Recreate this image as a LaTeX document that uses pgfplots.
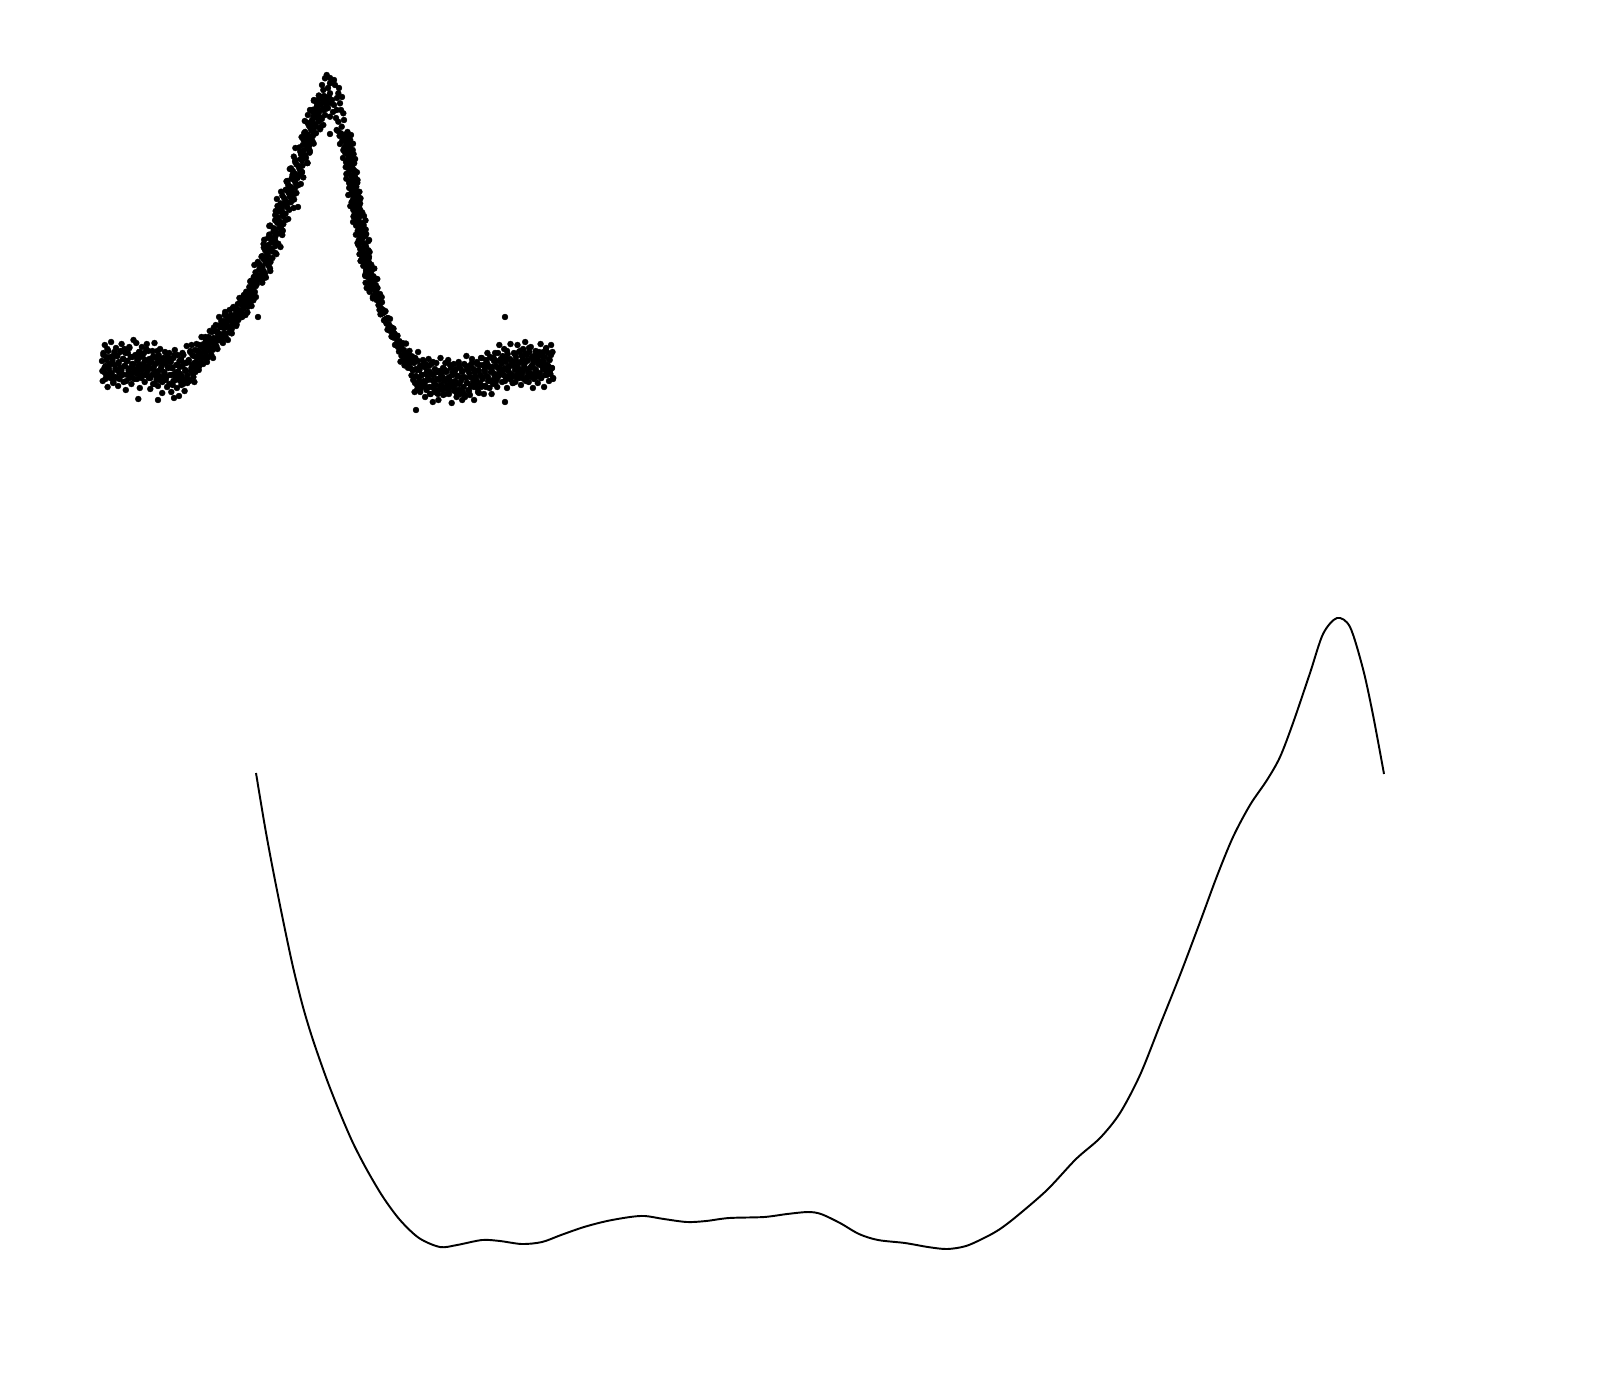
\documentclass[border=0pt]{standalone}
\usepackage{pgfplots}
\pgfplotsset{compat=1.18}
\begin{document}
\begin{tikzpicture}
\begin{axis}[width=16cm,height=13.8cm,scale only axis,
  xmin=0,xmax=1600,ymin=0,ymax=1380,y dir=reverse,axis lines=none,
  dots/.style={only marks,mark=*,mark size=0.85pt,black,mark options={line width=0.1pt,fill=black}}]
% left baseline band
\addplot[dots] table {
102.0 361
102.7 381
103.4 353
104.1 372
104.8 345
105.5 366
106.2 375
106.9 357
107.6 387
108.3 351
109.0 369
109.7 364
110.4 378
111.1 342
111.8 373
112.5 360
113.2 383
113.9 355
114.6 365
115.3 377
116.0 348
116.7 370
117.4 356
118.1 386
118.8 362
119.5 379
120.2 352
120.9 368
121.6 344
122.3 374
123.0 359
123.7 382
124.4 349
125.1 366
125.8 390
126.5 361
127.2 375
127.9 353
128.6 370
129.3 347
130.0 378
130.7 357
131.4 384
132.1 364
132.8 373
133.5 340
134.2 369
134.9 356
135.6 373
136.3 343
137.0 379
137.7 361
138.4 366
139.1 352
139.8 388
140.5 357
141.2 370
141.9 347
142.6 375
143.3 365
144.0 353
144.7 382
145.4 360
146.1 374
146.8 344
147.5 368
148.2 351
148.9 378
149.6 362
150.3 389
151.0 359
151.7 375
152.4 351
153.1 384
153.8 367
154.5 343
155.2 372
155.9 358
156.6 380
157.3 363
158.0 386
158.7 355
159.4 376
160.1 349
160.8 369
161.5 360
162.2 393
162.9 364
163.6 377
164.3 372
165.0 352
165.7 380
166.4 362
167.1 387
167.8 367
168.5 358
169.2 353
169.9 375
170.6 362
171.3 392
172.0 368
172.7 385
173.4 358
174.1 374
174.8 350
175.5 380
176.2 365
176.9 388
177.6 355
178.3 372
179.0 396
179.7 367
180.4 381
181.1 359
181.8 376
182.5 353
183.2 384
183.9 363
184.6 391
185.3 370
186.0 379
186.7 346
187.4 375
188.1 362
188.8 360
189.5 380
190.2 352
190.9 371
191.6 345
192.3 365
193.0 374
193.7 356
194.4 382
195.1 350
195.8 368
138.3 399
158.0 400
174.0 398
};
% left baseline band, second pass
\addplot[dots] table {
102.4 371
103.4 355
104.4 368
105.4 379
106.4 360
107.4 349
108.4 374
109.4 365
110.4 357
111.4 377
112.4 362
113.4 382
114.4 352
115.4 369
116.4 356
117.4 378
118.4 364
119.4 373
120.4 351
121.4 370
122.4 375
123.4 359
124.4 366
125.4 353
126.4 381
127.4 361
128.4 373
129.4 348
130.4 368
131.4 377
132.4 357
133.4 364
134.4 379
135.4 355
136.4 370
137.4 360
138.4 374
139.4 352
140.4 365
141.4 378
142.4 356
143.4 369
144.4 362
145.4 375
146.4 349
147.4 371
148.4 366
149.4 359
150.4 378
151.4 362
152.4 369
153.4 356
154.4 384
155.4 364
156.4 376
157.4 351
158.4 371
159.4 380
160.4 360
161.4 367
162.4 382
163.4 358
164.4 373
165.4 363
166.4 377
167.4 355
168.4 368
169.4 384
170.4 362
171.4 375
172.4 368
173.4 381
174.4 355
175.4 377
176.4 372
177.4 365
178.4 377
179.4 361
180.4 374
181.4 385
182.4 366
183.4 355
184.4 380
185.4 371
186.4 363
187.4 383
188.4 361
189.4 381
190.4 351
191.4 368
192.4 355
193.4 377
194.4 363
195.4 372
};
% rising side, flatter part
\addplot[dots] table {
196.0 362
196.55 344
197.1 358
197.65 364
198.2 351
198.75 370
199.3 345
199.85 357
200.4 353
200.95 362
201.5 337
202.05 357
202.6 348
203.15 364
203.7 344
204.25 350
204.8 358
205.35 337
205.9 353
206.45 342
207.0 362
207.55 345
208.1 357
208.65 337
209.2 348
209.75 331
210.3 351
210.85 340
211.4 355
211.95 332
212.5 343
213.05 358
213.6 338
214.15 347
214.7 331
215.25 343
215.8 325
216.35 346
216.9 332
217.45 349
218.0 334
218.55 340
219.1 317
219.65 336
220.2 327
220.75 335
221.3 321
221.85 339
222.4 326
222.95 343
223.5 328
224.05 321
224.6 333
225.15 312
225.7 337
226.25 323
226.8 327
227.35 316
227.9 340
228.45 319
229.0 327
229.55 310
230.1 328
230.65 321
231.2 315
231.75 329
232.3 316
232.85 324
233.4 307
233.95 318
234.5 309
235.05 323
235.6 314
236.15 326
236.7 309
237.25 317
237.8 304
238.35 320
238.9 310
239.45 298
240.0 312
240.55 303
241.1 315
241.65 305
242.2 317
242.75 299
243.3 309
243.85 295
244.4 305
244.95 299
245.5 315
246.05 300
246.6 306
247.15 298
247.7 307
248.25 292
248.8 301
249.35 287
249.9 297
250.45 301
251.0 290
251.55 306
252.1 285
252.65 294
253.2 290
253.75 297
254.3 277
254.85 292
255.4 285
255.95 297
256.5 280
258.0 317
298.0 207
};
% rising side, flatter part, second pass
\addplot[dots] table {
197.0 350.7
198.2 355.2
199.4 366.0
200.6 345.7
201.8 356.6
203.0 347.5
204.2 357.6
205.4 338.9
206.6 348.1
207.8 357.4
209.0 338.7
210.2 348.0
211.4 340.9
212.6 349.9
213.8 327.6
215.0 343.8
216.2 338.4
217.4 331.3
218.6 339.5
219.8 325.2
221.0 334.3
222.2 341.8
223.4 325.3
224.6 315.1
225.8 333.8
227.0 325.3
228.2 317.6
229.4 332.3
230.6 318.9
231.8 333.4
233.0 308.0
234.2 320.2
235.4 308.3
236.6 324.5
237.8 311.8
239.0 317.6
240.2 298.5
241.4 312.0
242.6 314.4
243.8 299.9
245.0 303.8
246.2 291.7
247.4 312.4
248.6 294.8
249.8 302.7
251.0 280.8
252.2 294.9
253.4 300.3
254.6 282.4
255.8 286.1
};
% rising side, steep part (x y)
\addplot[dots] table {
256.9 284.0
262.3 282.7
250.2 281.4
261.4 280.1
257.4 278.8
265.9 277.5
256.5 276.2
260.5 274.9
265.1 273.6
255.5 272.3
263.7 271.0
259.2 269.7
270.0 268.4
262.4 267.1
268.7 265.8
259.7 264.5
265.5 263.2
257.9 261.9
268.7 260.6
263.7 259.3
272.4 258.0
261.5 256.7
267.9 255.4
276.4 254.1
266.9 252.8
272.3 251.5
265.1 250.2
271.4 248.9
263.8 247.6
275.1 246.3
268.3 245.0
278.3 243.7
271.4 242.4
275.1 241.1
264.2 239.8
274.7 238.5
270.5 237.2
275.6 235.9
269.2 234.6
279.2 233.3
273.3 232.0
282.8 230.7
276.0 229.4
273.3 228.1
280.1 226.8
270.1 225.5
283.3 224.2
277.3 222.9
279.7 221.6
275.1 220.3
288.2 219.0
277.9 217.7
282.8 216.4
275.2 215.1
285.5 213.8
282.4 212.5
278.7 211.2
289.2 209.9
281.9 208.6
287.4 207.3
277.5 206.0
286.0 204.7
280.6 203.4
290.5 202.1
285.6 200.8
294.1 199.5
284.2 198.2
290.1 196.9
282.4 195.6
294.1 194.3
288.7 193.0
281.1 191.7
291.5 190.4
287.0 189.1
295.1 187.8
289.7 186.5
298.2 185.2
287.9 183.9
295.5 182.6
286.5 181.3
294.3 180.0
291.5 178.7
303.3 177.4
293.7 176.1
298.8 174.8
294.6 173.5
301.9 172.2
292.8 170.9
299.7 169.6
291.0 168.3
298.8 167.0
302.4 165.7
296.5 164.4
307.4 163.1
295.1 161.8
302.0 160.5
300.5 159.2
306.0 157.9
293.8 156.6
305.1 155.3
301.1 154.0
309.6 152.7
300.2 151.4
304.2 150.1
308.8 148.8
299.2 147.5
307.4 146.2
302.8 144.9
313.7 143.6
306.0 142.3
312.4 141.0
303.4 139.7
309.2 138.4
301.6 137.1
312.4 135.8
307.4 134.5
316.0 133.2
305.2 131.9
311.5 130.6
320.1 129.3
310.6 128.0
316.0 126.7
308.8 125.4
315.1 124.1
307.5 122.8
318.7 121.5
312.0 120.2
321.9 118.9
315.1 117.6
318.8 116.3
307.9 115.0
318.4 113.7
314.2 112.4
319.3 111.1
312.9 109.8
322.9 108.5
316.9 107.2
326.5 105.9
319.7 104.6
317.0 103.3
323.8 102.0
313.8 100.7
327.0 99.4
321.0 98.1
323.4 96.8
318.8 95.5
};
% rising side, steep part, second pass (x y)
\addplot[dots] table {
262.4 280
253.8 277
262.7 274
270.3 271
260.0 268
254.4 265
270.5 262
266.1 259
262.4 256
275.4 253
267.5 250
280.5 247
263.6 244
274.8 241
268.1 238
282.3 235
275.0 232
281.4 229
269.3 226
281.7 223
285.8 220
277.2 217
282.5 214
275.7 211
293.6 208
282.6 205
290.9 202
276.9 199
290.0 196
296.4 193
285.5 190
290.7 187
300.8 184
287.4 181
297.5 178
292.5 175
302.0 172
289.8 169
298.7 166
307.5 163
295.4 160
304.2 157
301.1 154
309.9 151
295.4 148
309.6 145
307.7 142
304.5 139
312.8 136
304.2 133
313.1 130
320.7 127
310.4 124
304.8 121
320.9 118
316.5 115
312.8 112
325.8 109
317.9 106
330.9 103
314.0 100
325.2 97
};
% peak cluster
\addplot[dots] table {
326.7 75
325.0 78.3
330.0 83.3
335.0 85
323.3 90
338.3 93.3
320.0 96.7
330.0 93.3
340.0 103.3
316.7 106.7
310.0 110
323.3 110
336.7 110
343.3 113.3
313.3 116.7
320.0 120
330.0 116.7
338.3 121.7
341.7 126.7
310.0 126.7
323.3 125
336.7 130
330.0 134
338.0 131
328.0 88
332.0 100
326.0 102
318.0 112
334.0 105
344.0 120
312.0 122
306.0 138
347.0 140
322.0 85
334.0 80
329.0 97
337.0 98
318.0 100
325.0 115
333.0 112
341.0 110
315.0 110
328.0 108
321.0 104
339.0 88
330.0 78
342.0 97
336.0 118
324.0 96
};
% descending side, steep part (x y)
\addplot[dots] table {
347.5 132.0
340.9 133.3
345.3 134.6
339.6 135.9
347.5 137.2
343.8 138.5
350.1 139.8
342.1 141.1
346.7 142.4
353.0 143.7
346.0 145.0
349.8 146.3
344.5 147.6
349.0 148.9
343.3 150.2
351.4 151.5
346.4 152.8
353.6 154.1
348.5 155.4
351.1 156.7
343.0 158.0
350.5 159.3
347.5 160.6
349.0 161.9
354.2 163.2
347.3 164.5
352.2 165.8
345.7 167.1
351.1 168.4
353.6 169.7
349.2 171.0
356.9 172.3
347.9 173.6
352.7 174.9
351.6 176.2
355.3 177.5
346.3 178.8
354.4 180.1
351.2 181.4
357.3 182.7
350.3 184.0
353.1 185.3
356.3 186.6
349.2 187.9
355.0 189.2
351.6 190.5
359.4 191.8
353.7 193.1
351.0 194.4
358.1 195.7
354.3 197.0
360.5 198.3
353.1 199.6
357.4 200.9
351.6 202.2
360.1 203.5
356.0 204.8
350.3 206.1
357.8 207.4
354.4 208.7
360.3 210.0
356.2 211.3
362.3 212.6
354.7 213.9
360.2 215.2
353.5 216.5
359.0 217.8
356.9 219.1
365.5 220.4
358.4 221.7
361.9 223.0
360.9 224.3
356.1 225.6
363.3 226.9
358.8 228.2
365.7 229.5
360.6 230.8
358.5 232.1
363.3 233.4
355.9 234.7
365.3 236.0
360.8 237.3
362.3 238.6
358.9 239.9
368.3 241.2
360.6 242.5
364.1 243.8
358.4 245.1
365.9 246.4
363.5 247.7
360.8 249.0
368.4 250.3
363.0 251.6
366.9 252.9
359.5 254.2
365.8 255.5
369.0 256.8
362.3 258.1
366.6 259.4
360.8 260.7
368.7 262.0
365.0 263.3
371.2 264.6
363.3 265.9
367.9 267.2
374.3 268.5
367.3 269.8
371.3 271.1
366.1 272.4
370.7 273.7
365.2 275.0
373.5 276.3
368.5 277.6
375.9 278.9
370.9 280.2
373.6 281.5
365.6 282.8
373.3 284.1
370.4 285.4
372.1 286.7
377.5 288.0
370.9 289.3
375.9 290.6
369.6 291.9
375.3 293.2
378.0 294.5
373.8 295.8
381.7 297.1
372.9 298.4
377.9 299.7
};
% descending side, second pass (x y)
\addplot[dots] table {
351.0 135
343.7 138
349.3 141
340.0 144
348.6 147
352.7 150
345.2 153
348.6 156
355.1 159
346.0 162
352.4 165
348.8 168
354.8 171
346.4 174
351.9 177
357.5 180
349.1 183
354.8 186
352.5 189
358.2 192
348.3 195
357.6 198
356.1 201
353.8 204
359.1 207
353.3 210
359.0 213
364.0 216
356.9 219
353.1 222
363.6 225
360.5 228
357.7 231
366.2 234
360.6 237
369.1 240
357.5 243
364.8 246
360.2 249
369.6 252
364.6 255
368.8 258
360.6 261
368.8 264
371.6 267
366.0 270
369.6 273
365.3 276
377.3 279
370.1 282
375.8 285
366.7 288
375.6 291
380.0 294
372.9 297
376.6 300
};
% descending foot
\addplot[dots] table {
378.0 298.2
378.5 305.1
379.0 298.0
379.5 309.9
380.0 303.8
380.5 314.4
381.0 308.2
381.5 312.4
382.0 302.2
382.5 313.3
383.0 309.8
383.5 312.6
384.0 320.4
384.5 312.0
385.0 319.3
385.5 311.2
386.0 319.5
386.5 323.6
387.0 318.3
387.5 329.7
388.0 318.0
388.5 325.4
389.0 324.5
389.5 330.5
390.0 318.9
390.5 330.8
391.0 327.3
391.5 336.5
392.0 327.7
392.5 332.4
393.0 337.4
393.5 328.6
394.0 337.4
394.5 333.5
395.0 344.9
395.5 337.9
396.0 344.9
396.5 336.4
397.0 342.9
397.5 335.7
398.0 347.0
398.5 342.4
399.0 351.6
399.5 341.2
400.0 348.2
400.5 361.7
401.0 347.2
401.5 355.9
402.0 344.9
402.5 354.9
403.0 343.2
403.5 360.6
404.0 350.1
404.5 365.4
405.0 354.9
405.5 360.4
406.0 343.6
406.5 359.6
407.0 353.2
407.5 356.7
408.0 367.8
408.5 353.8
409.0 364.2
409.5 350.9
410.0 362.7
410.5 368.1
411.0 358.8
411.5 375.4
412.0 356.3
};
% right baseline band
\addplot[dots] table {
412.5 370
413.2 380
413.9 362
414.6 392
415.3 358
416.0 376
416.7 370
417.4 386
418.1 352
418.8 382
419.5 370
420.2 392
420.9 366
421.6 375
422.3 386
423.0 360
423.7 381
424.4 367
425.1 397
425.8 374
426.5 390
427.2 365
427.9 380
428.6 359
429.3 387
430.0 372
430.7 394
431.4 364
432.1 380
432.8 402
433.5 375
434.2 389
434.9 369
435.6 385
436.3 363
437.0 393
437.7 372
438.4 400
439.1 380
439.8 389
440.5 358
441.2 385
441.9 372
442.6 377
443.3 395
444.0 369
444.7 388
445.4 363
446.1 380
446.8 371
447.5 389
448.2 360
448.9 394
449.6 377
450.3 382
451.0 368
451.7 403
452.4 373
453.1 386
453.8 364
454.5 391
455.2 381
455.9 369
456.6 397
457.3 376
458.0 390
458.7 362
459.4 384
460.1 368
460.8 394
461.5 378
462.2 400
462.9 371
463.6 387
464.3 364
465.0 395
465.7 378
466.4 356
467.1 383
467.8 369
468.5 390
469.2 373
469.9 395
470.6 365
471.3 386
472.0 359
472.7 378
473.4 369
474.1 400
474.8 373
475.5 385
476.2 380
476.9 362
477.6 388
478.3 370
479.0 393
479.7 365
480.4 375
481.1 387
481.8 358
482.5 379
483.2 365
483.9 394
484.6 370
485.3 386
486.0 360
486.7 376
487.4 353
488.1 381
488.8 366
489.5 388
490.2 357
490.9 372
491.6 394
492.3 367
493.0 380
493.7 358
494.4 375
495.1 353
495.8 382
496.5 361
497.2 387
497.9 368
498.6 376
499.3 345
500.0 372
500.7 359
501.4 364
502.1 382
502.8 356
503.5 375
504.2 349
504.9 368
505.6 377
506.3 359
507.0 388
507.7 354
508.4 371
509.1 366
509.8 379
510.5 344
511.2 374
511.9 361
512.6 383
513.3 376
514.0 366
514.7 354
515.4 382
516.1 361
516.8 375
517.5 345
518.2 368
518.9 352
519.6 378
520.3 362
521.0 385
521.7 356
522.4 372
523.1 349
523.8 379
524.5 364
525.2 342
525.9 369
526.6 355
527.3 377
528.0 360
528.7 382
529.4 352
530.1 373
530.8 347
531.5 366
532.2 357
532.9 388
533.6 361
534.3 374
535.0 369
535.7 351
536.4 377
537.1 359
537.8 383
538.5 364
539.2 355
539.9 373
540.6 344
541.3 378
542.0 361
542.7 366
543.4 352
544.1 387
544.8 357
545.5 370
546.2 348
546.9 375
547.6 365
548.3 353
549.0 381
549.7 360
550.4 374
551.1 345
551.8 368
552.5 352
553.2 378
416.0 410
505.0 317
505.0 402
};
% right baseline band, second pass
\addplot[dots] table {
413 370
414 363
415 383
416 369
417 390
418 361
419 378
420 366
421 388
422 375
423 384
424 362
425 382
426 387
427 371
428 378
429 366
430 394
431 374
432 387
433 362
434 382
435 392
436 372
437 379
438 394
439 371
440 386
441 376
442 390
443 368
444 381
445 394
446 372
447 385
448 378
449 391
450 365
451 387
452 382
453 375
454 387
455 371
456 384
457 395
458 376
459 365
460 390
461 381
462 372
463 392
464 377
465 397
466 366
467 383
468 370
469 391
470 377
471 386
472 363
473 382
474 387
475 371
476 377
477 364
478 392
479 371
480 383
481 358
482 377
483 386
484 366
485 372
486 387
487 363
488 377
489 367
490 381
491 358
492 371
493 384
494 361
495 374
496 366
497 379
498 353
499 374
500 369
501 362
502 374
503 358
504 370
505 381
506 362
507 351
508 376
509 367
510 359
511 378
512 363
513 383
514 353
515 370
516 357
517 378
518 364
519 373
520 351
521 370
522 375
523 359
524 366
525 353
526 381
527 361
528 373
529 348
530 368
531 377
532 357
533 364
534 379
535 355
536 370
537 360
538 374
539 352
540 365
541 378
542 356
543 369
544 362
545 375
546 349
547 371
548 366
549 359
550 371
551 355
552 368
553 379
};
% smooth curve
\addplot[black,line width=0.55pt,smooth,no marks] table {
256 773
265 827
273 870
283 920
293 967
303 1007
313 1040
327 1080
340 1113
353 1143
367 1170
383 1197
400 1220
419 1238
440 1247
457 1245
482 1240
500 1241
522 1244
542 1242
561 1235
584 1227
607 1221
630 1217
645 1216
664 1219
687 1222
706 1221
729 1218
764 1217
787 1214
808 1212
821 1214
840 1223
859 1234
878 1240
905 1243
928 1247
947 1249
966 1246
986 1237
1000 1229
1017 1216
1047 1190
1076 1159
1100 1138
1120 1113
1140 1075
1160 1025
1180 975
1200 922
1217 876
1233 837
1250 805
1267 780
1280 757
1293 723
1310 673
1323 634
1337 618
1350 627
1363 669
1373 715
1384 774
};
\end{axis}
\path (0,0) rectangle (16cm,13.8cm);
\end{tikzpicture}
\end{document}
